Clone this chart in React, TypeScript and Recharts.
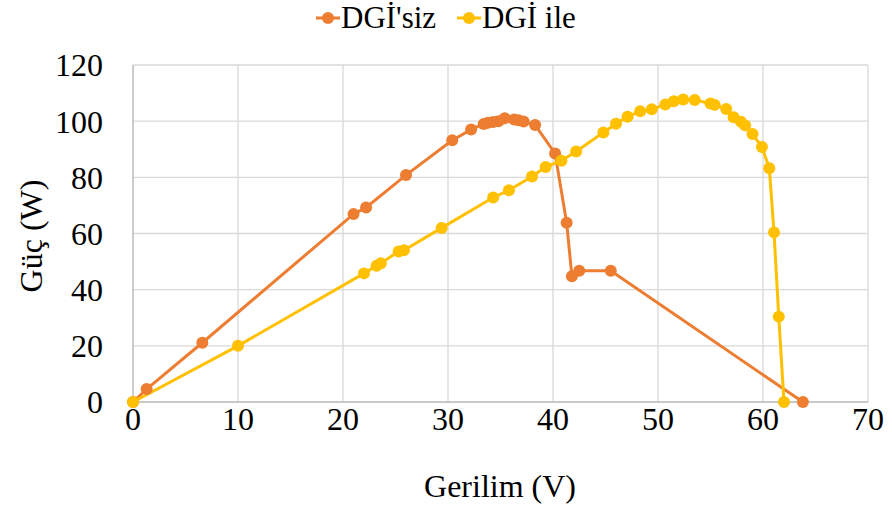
import React from 'react';
import { LineChart, Line, XAxis, YAxis, CartesianGrid, Legend, Label } from 'recharts';

const seriesNames = ["DGİ'siz", 'DGİ ile'];
const seriesColors = ['#ED7D31', '#FFC000'];

const withoutV = [0, 1.3, 6.6, 21.0, 22.2, 26.0, 30.4, 32.2, 33.4, 33.8, 34.3, 34.8, 35.4, 36.3, 36.7, 37.2, 38.3, 40.2, 41.3, 41.8, 42.5, 45.5, 63.8];
const withoutP = [0, 4.6, 21.1, 66.9, 69.3, 80.8, 93.2, 97.0, 99.0, 99.4, 99.7, 100.0, 101.0, 100.6, 100.3, 99.9, 98.6, 88.5, 63.8, 44.8, 46.7, 46.7, 0];

const withV = [0, 10, 22.0, 23.2, 23.6, 25.3, 25.8, 29.4, 34.3, 35.8, 38.0, 39.3, 40.8, 42.2, 44.8, 46.0, 47.1, 48.3, 49.4, 50.7, 51.5, 52.4, 53.5, 55.0, 55.4, 56.5, 57.2, 57.9, 58.3, 59.0, 59.9, 60.6, 61.05, 61.5, 62.0];
const withP = [0, 20, 45.8, 48.5, 49.4, 53.6, 54.0, 62.0, 72.8, 75.4, 80.3, 83.7, 85.9, 89.2, 96.0, 99.1, 101.6, 103.5, 104.2, 105.9, 107.1, 107.7, 107.5, 106.3, 105.8, 104.3, 101.4, 99.8, 98.5, 95.4, 90.8, 83.2, 60.4, 30.4, 0];

const xTicks = [0, 10, 20, 30, 40, 50, 60, 70];
const yTicks = [0, 20, 40, 60, 80, 100, 120];

const xTitle = 'Gerilim (V)';
const yTitle = 'Güç (W)';

const FONT = '"Liberation Serif", "DejaVu Serif", serif';

const withoutData = withoutV.map((v, i) => ({ v, p: withoutP[i] }));
const withData = withV.map((v, i) => ({ v, p: withP[i] }));

const LegendContent = () => {
  const items = [
    { name: seriesNames[0], color: seriesColors[0], mx: 316, tx: 341 },
    { name: seriesNames[1], color: seriesColors[1], mx: 457, tx: 482 },
  ];
  return (
    <div style={{ position: 'relative', width: 892, height: 36 }}>
      {items.map((it) => (
        <React.Fragment key={it.name}>
          <svg style={{ position: 'absolute', left: it.mx, top: 11 }} width={24} height={14}>
            <line x1={0} y1={7} x2={24} y2={7} stroke={it.color} strokeWidth={3} />
            <circle cx={12} cy={7} r={6} fill={it.color} />
          </svg>
          <span
            style={{
              position: 'absolute',
              left: it.tx,
              top: 0,
              fontFamily: FONT,
              fontSize: 31,
              lineHeight: '36px',
              color: '#000',
              whiteSpace: 'nowrap',
            }}
          >
            {it.name}
          </span>
        </React.Fragment>
      ))}
    </div>
  );
};

export default function App() {
  return (
    <div style={{ position: 'absolute', left: 0, top: 0, width: 892, height: 513, background: '#fff' }}>
      <LineChart width={892} height={513} margin={{ top: 29, right: 24, bottom: 0, left: 0 }}>
        <CartesianGrid stroke="#D9D9D9" strokeWidth={1.3} />
        <XAxis
          type="number"
          dataKey="v"
          domain={[0, 70]}
          ticks={xTicks}
          height={111}
          tickSize={0}
          tickMargin={5}
          axisLine={{ stroke: '#BFBFBF', strokeWidth: 1.3 }}
          tick={{ fontFamily: FONT, fontSize: 32, fill: '#000' }}
          allowDuplicatedCategory={false}
        >
          <Label
            content={() => (
              <text x={500} y={497} textAnchor="middle" fontFamily={FONT} fontSize={32} fill="#000">
                {xTitle}
              </text>
            )}
          />
        </XAxis>
        <YAxis
          type="number"
          dataKey="p"
          domain={[0, 120]}
          ticks={yTicks}
          width={133}
          tickSize={0}
          tickMargin={30}
          axisLine={{ stroke: '#BFBFBF', strokeWidth: 1.3 }}
          tick={{ fontFamily: FONT, fontSize: 32, fill: '#000' }}
        >
          <Label
            content={() => (
              <text
                x={31}
                y={236}
                transform="rotate(-90 31 236)"
                textAnchor="middle"
                dominantBaseline="central"
                fontFamily={FONT}
                fontSize={32}
                fill="#000"
              >
                {yTitle}
              </text>
            )}
          />
        </YAxis>
        <Legend verticalAlign="top" align="center" wrapperStyle={{ top: 0, left: 0, width: 892 }} content={<LegendContent />} />
        <Line
          data={withoutData}
          dataKey="p"
          name={seriesNames[0]}
          stroke={seriesColors[0]}
          strokeWidth={3}
          dot={{ r: 6, fill: seriesColors[0], stroke: 'none' }}
          isAnimationActive={false}
        />
        <Line
          data={withData}
          dataKey="p"
          name={seriesNames[1]}
          stroke={seriesColors[1]}
          strokeWidth={3}
          dot={{ r: 6, fill: seriesColors[1], stroke: 'none' }}
          isAnimationActive={false}
        />
      </LineChart>
    </div>
  );
}
